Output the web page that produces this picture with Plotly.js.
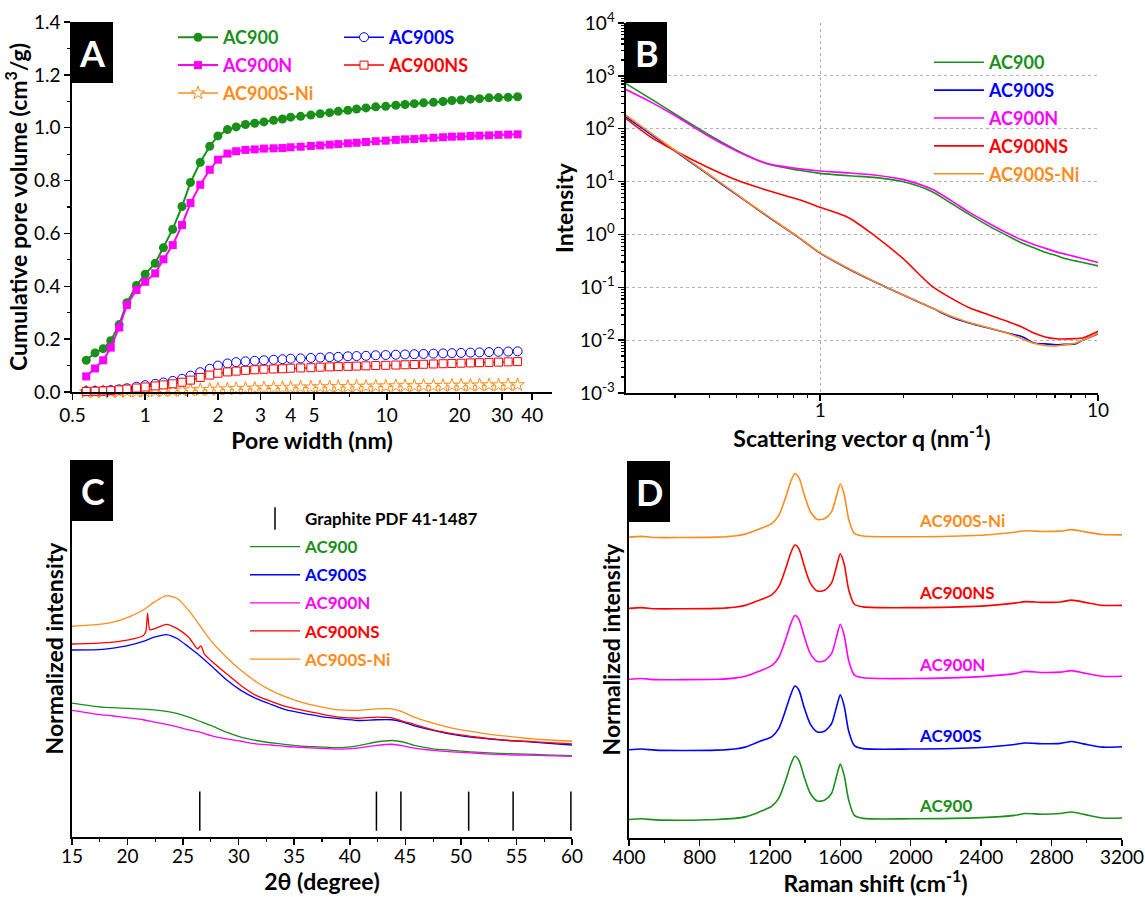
<!DOCTYPE html>
<html><head><meta charset="utf-8">
<script src="https://cdn.plot.ly/plotly-3.0.1.min.js"></script>
<style>html,body{margin:0;padding:0;background:#fff}</style>
</head><body><div id="chart" style="width:1145px;height:897px"></div>
<script>
// ---------- Panel A: cumulative pore volume ----------
const poreWidth = [0.57,0.62,0.67,0.72,0.78,0.84,0.92,1.0,1.1,1.19,1.3,1.42,1.54,1.69,1.85,2.0,2.19,2.38,2.6,2.84,3.1,3.4,3.7,4.0,4.4,4.85,5.3,5.8,6.3,6.9,7.5,8.2,9.0,9.9,10.9,11.9,13.0,14.2,15.6,17.1,18.6,20.3,22.2,24.2,26.5,29.0,31.8,34.8];
const poreAC900 = [0.120,0.148,0.164,0.194,0.255,0.338,0.403,0.446,0.487,0.546,0.616,0.702,0.793,0.869,0.930,0.969,0.993,1.003,1.012,1.017,1.022,1.028,1.033,1.040,1.043,1.048,1.053,1.057,1.062,1.066,1.071,1.075,1.079,1.081,1.085,1.088,1.091,1.094,1.096,1.099,1.103,1.105,1.108,1.110,1.113,1.114,1.115,1.117];
const poreAC900N = [0.059,0.089,0.120,0.168,0.244,0.329,0.386,0.417,0.449,0.502,0.556,0.632,0.715,0.784,0.841,0.879,0.902,0.911,0.916,0.918,0.921,0.922,0.923,0.926,0.928,0.931,0.933,0.936,0.938,0.941,0.943,0.946,0.949,0.951,0.954,0.956,0.957,0.960,0.962,0.964,0.966,0.967,0.969,0.970,0.971,0.973,0.974,0.975];
const poreAC900S = [0.003,0.004,0.005,0.007,0.010,0.014,0.020,0.026,0.031,0.036,0.042,0.050,0.062,0.075,0.088,0.100,0.108,0.113,0.116,0.118,0.120,0.122,0.124,0.126,0.127,0.129,0.130,0.132,0.133,0.135,0.136,0.137,0.139,0.140,0.141,0.142,0.143,0.144,0.145,0.146,0.147,0.148,0.149,0.150,0.151,0.152,0.153,0.154];
const poreAC900NS = [0.002,0.003,0.004,0.005,0.008,0.011,0.015,0.019,0.023,0.027,0.031,0.037,0.045,0.055,0.064,0.071,0.076,0.079,0.082,0.084,0.086,0.087,0.088,0.090,0.091,0.092,0.094,0.095,0.096,0.097,0.098,0.099,0.100,0.101,0.102,0.103,0.104,0.105,0.106,0.107,0.108,0.109,0.110,0.111,0.112,0.113,0.114,0.115];
const poreAC900SNi = [0.000,0.000,0.001,0.001,0.001,0.002,0.002,0.003,0.004,0.004,0.005,0.006,0.007,0.008,0.009,0.010,0.011,0.012,0.013,0.014,0.015,0.016,0.016,0.017,0.018,0.018,0.019,0.019,0.020,0.020,0.021,0.021,0.022,0.022,0.023,0.023,0.023,0.024,0.024,0.024,0.025,0.025,0.025,0.026,0.026,0.026,0.027,0.027];
const poreTicks = [0.5,1,2,3,4,5,10,20,30,40];
const poreMinorTicks = [0.7,1.5,7,15];
const volTicks = [0,0.2,0.4,0.6,0.8,1.0,1.2,1.4];

// ---------- Panel B: SAXS ----------
const qVec = [0.2,0.245,0.305,0.39,0.5,0.64,0.83,1.0,1.27,1.59,1.98,2.53,2.96,3.46,4.04,4.73,5.36,5.88,6.45,7.08,7.54,8.28,8.82,10];
const saxsAC900 = [714,372,180,81.3,39.4,22.0,16.5,14.3,12.9,11.9,10.0,6.44,3.88,2.34,1.45,0.938,0.676,0.562,0.460,0.398,0.355,0.316,0.294,0.254];
const saxsAC900S = [168,78.9,35.6,14.3,5.65,2.27,0.898,0.442,0.220,0.123,0.0721,0.0404,0.0275,0.0209,0.0169,0.0136,0.0115,0.00883,0.00851,0.00820,0.00832,0.00845,0.0100,0.0132];
const saxsAC900N = [551,322,168,75.9,38.0,22.1,17.6,15.8,14.6,13.2,11.0,7.13,4.36,2.58,1.63,1.05,0.776,0.646,0.548,0.468,0.429,0.380,0.350,0.294];
const saxsAC900NS = [156,70.3,36.6,19.1,10.7,6.92,4.61,3.26,2.05,0.90,0.355,0.104,0.0624,0.0404,0.0302,0.0226,0.0174,0.0136,0.0115,0.0106,0.0105,0.0107,0.0110,0.0147];
const saxsAC900SNi = [180,83.2,37.0,14.7,5.78,2.31,0.912,0.447,0.224,0.124,0.0724,0.0407,0.0282,0.0214,0.0172,0.0135,0.0105,0.00871,0.00794,0.00776,0.00813,0.00871,0.0100,0.0135];
const saxsYTicks = [1e-3,1e-2,1e-1,1,10,100,1e3,1e4];
const saxsYTickText = ['10<sup>-3</sup>','10<sup>-2</sup>','10<sup>-1</sup>','10<sup>0</sup>','10<sup>1</sup>','10<sup>2</sup>','10<sup>3</sup>','10<sup>4</sup>'];
const saxsXTicks = [1,10];

// ---------- Panel C: XRD ----------
const twoTheta = [15,17.4,18.7,20.1,21.4,22.4,23.5,24.5,25.5,26.5,27.5,28.9,30.2,31.6,32.9,34.3,35.6,37.3,39.0,40.7,42.4,43.8,44.8,45.8,47.5,49.2,50.9,52.6,54.3,55.9,57.6,60];
const xrdAC900 = [0.355,0.345,0.343,0.341,0.339,0.337,0.333,0.327,0.318,0.307,0.296,0.278,0.265,0.256,0.250,0.245,0.241,0.239,0.237,0.242,0.252,0.256,0.252,0.243,0.234,0.230,0.226,0.223,0.221,0.220,0.218,0.216];
const xrdAC900S = [0.496,0.497,0.501,0.508,0.519,0.530,0.537,0.526,0.504,0.481,0.455,0.417,0.389,0.367,0.352,0.337,0.329,0.320,0.314,0.309,0.311,0.311,0.305,0.295,0.283,0.272,0.265,0.260,0.256,0.253,0.249,0.244];
const xrdAC900N = [0.336,0.325,0.321,0.316,0.311,0.305,0.299,0.292,0.284,0.278,0.269,0.260,0.254,0.247,0.244,0.240,0.238,0.235,0.233,0.236,0.243,0.246,0.242,0.236,0.230,0.226,0.223,0.220,0.218,0.217,0.216,0.214];
const twoThetaNS = [15,17.4,18.7,20.1,21.4,21.65,21.8,22.0,22.4,23.5,24.5,25.5,26.3,26.6,26.9,27.5,28.9,30.2,31.6,32.9,34.3,35.6,37.3,39.0,40.7,42.4,43.8,44.8,45.8,47.5,49.2,50.9,52.6,54.3,55.9,57.6,60];
const xrdAC900NS = [0.512,0.514,0.517,0.523,0.534,0.545,0.594,0.550,0.552,0.564,0.552,0.530,0.499,0.507,0.486,0.468,0.433,0.402,0.375,0.360,0.346,0.337,0.327,0.318,0.315,0.318,0.316,0.307,0.299,0.284,0.274,0.267,0.261,0.256,0.254,0.251,0.247];
const xrdAC900SNi = [0.559,0.564,0.570,0.583,0.602,0.623,0.640,0.632,0.601,0.561,0.521,0.477,0.442,0.411,0.389,0.371,0.358,0.346,0.337,0.336,0.340,0.340,0.331,0.318,0.302,0.289,0.280,0.272,0.267,0.262,0.258,0.254];
const graphitePeaks = [26.5,42.4,44.6,50.7,54.7,59.9];
const graphiteLevel = [0.0685,0.0685,0.0685,0.0685,0.0685,0.0685];

// ---------- Panel D: Raman ----------
const ramanShift = [400,470,550,700,900,1000,1060,1120,1170,1210,1250,1290,1320,1342,1365,1395,1430,1470,1510,1550,1580,1600,1622,1648,1680,1730,2000,2400,2590,2650,2750,2850,2915,2990,3090,3200];
const ramanAC900 = [0.049,0.051,0.048,0.047,0.049,0.052,0.056,0.065,0.075,0.084,0.105,0.153,0.197,0.217,0.206,0.162,0.118,0.098,0.100,0.118,0.166,0.196,0.166,0.100,0.060,0.052,0.051,0.054,0.060,0.065,0.063,0.065,0.069,0.062,0.053,0.053];
const ramanAC900S = [0.234,0.236,0.233,0.232,0.233,0.236,0.241,0.252,0.261,0.268,0.290,0.340,0.382,0.403,0.392,0.346,0.302,0.281,0.283,0.303,0.350,0.380,0.350,0.283,0.245,0.237,0.236,0.240,0.248,0.252,0.250,0.251,0.256,0.249,0.241,0.242];
const ramanAC900N = [0.421,0.423,0.420,0.420,0.421,0.424,0.429,0.439,0.448,0.457,0.478,0.527,0.570,0.590,0.580,0.535,0.489,0.468,0.470,0.489,0.536,0.567,0.538,0.470,0.432,0.425,0.423,0.428,0.436,0.442,0.439,0.440,0.444,0.437,0.429,0.429];
const ramanAC900NS = [0.609,0.611,0.608,0.608,0.609,0.612,0.617,0.627,0.636,0.645,0.666,0.715,0.758,0.777,0.767,0.722,0.676,0.655,0.657,0.676,0.723,0.754,0.727,0.658,0.620,0.613,0.611,0.615,0.623,0.627,0.625,0.626,0.631,0.625,0.617,0.617];
const ramanAC900SNi = [0.798,0.800,0.797,0.797,0.798,0.801,0.806,0.816,0.825,0.834,0.855,0.904,0.947,0.966,0.956,0.911,0.866,0.845,0.847,0.865,0.910,0.939,0.912,0.845,0.808,0.801,0.799,0.803,0.811,0.815,0.813,0.814,0.818,0.812,0.805,0.804];
const ramanLabels = ['AC900S-Ni','AC900NS','AC900N','AC900S','AC900'];
const ramanLabelY = [0.841,0.650,0.459,0.273,0.085];

// ---------- styling ----------
const W = 1145, H = 897;
const PX = x => x / W, PY = y => 1 - y / H;
const FONT = 'Lato, "Open Sans", sans-serif';
const C = {green:'#1a8f1a', blue:'#0000ff', mag:'#ff00ff', red:'#ff0000', orange:'#ff8c1a'};
const lbl = (t, c) => '<span style="color:' + c + '"><b>' + t + '</b></span>';

function axis(extra) {
  return Object.assign({
    showline:true, linecolor:'#000', linewidth:1.6, ticks:'outside', ticklen:6, tickwidth:1.5,
    tickcolor:'#000', showgrid:false, zeroline:false, fixedrange:true,
    tickfont:{family:FONT, size:19, color:'#000'}
  }, extra);
}
function title(t, s) { return {text:'<b>' + t + '</b>', font:{family:FONT, size:23, color:'#000'}, standoff:s}; }

const traces = [];
// A
const aCommon = {type:'scatter', mode:'lines+markers', x:poreWidth, xaxis:'x', yaxis:'y', cliponaxis:false};
traces.push(Object.assign({}, aCommon, {y:poreAC900, name:lbl('AC900', C.green), legend:'legend', legendgroup:'a1',
  line:{color:C.green, width:2}, marker:{symbol:'circle', size:9, color:C.green}}));
traces.push(Object.assign({}, aCommon, {y:poreAC900N, name:lbl('AC900N', C.mag), legend:'legend', legendgroup:'a2',
  line:{color:C.mag, width:2}, marker:{symbol:'square', size:8, color:C.mag}}));
traces.push(Object.assign({}, aCommon, {y:poreAC900SNi, name:lbl('AC900S-Ni', C.orange), legend:'legend', legendgroup:'a3',
  line:{color:C.orange, width:1.5}, marker:{symbol:'star', size:10, color:'#fff', line:{color:C.orange, width:1}}}));
traces.push(Object.assign({}, aCommon, {y:poreAC900S, name:lbl('AC900S', C.blue), legend:'legend2', legendgroup:'a4',
  line:{color:C.blue, width:1.5}, marker:{symbol:'circle', size:9, color:'#fff', line:{color:C.blue, width:1}}}));
traces.push(Object.assign({}, aCommon, {y:poreAC900NS, name:lbl('AC900NS', C.red), legend:'legend2', legendgroup:'a5',
  line:{color:C.red, width:1.5}, marker:{symbol:'square', size:8, color:'#fff', line:{color:C.red, width:1}}}));
// B
[[saxsAC900,'AC900',C.green],[saxsAC900S,'AC900S',C.blue],[saxsAC900N,'AC900N',C.mag],[saxsAC900NS,'AC900NS',C.red],[saxsAC900SNi,'AC900S-Ni',C.orange]]
 .forEach((s,i) => traces.push({type:'scatter', mode:'lines', x:qVec, y:s[0], xaxis:'x2', yaxis:'y2', name:lbl(s[1], s[2]),
   legend:'legend3', legendgroup:'b'+i, line:{color:s[2], width:1.6, shape:'spline', smoothing:0.8}}));
// C
traces.push({type:'scatter', mode:'markers', x:graphitePeaks, y:graphiteLevel, xaxis:'x3', yaxis:'y3',
  name:'<b>Graphite PDF 41-1487</b>', legend:'legend4', legendgroup:'c0',
  marker:{symbol:'line-ns', size:28, color:'#000', line:{color:'#000', width:1.5}}});
[[twoTheta,xrdAC900,'AC900',C.green],[twoTheta,xrdAC900S,'AC900S',C.blue],[twoTheta,xrdAC900N,'AC900N',C.mag],[twoThetaNS,xrdAC900NS,'AC900NS',C.red],[twoTheta,xrdAC900SNi,'AC900S-Ni',C.orange]]
 .forEach((s,i) => traces.push({type:'scatter', mode:'lines', x:s[0], y:s[1], xaxis:'x3', yaxis:'y3', name:lbl(s[2], s[3]),
   legend:'legend4', legendgroup:'c'+(i+1), line:{color:s[3], width:1.3, shape:'spline', smoothing:0.6}}));
// D
[[ramanAC900,C.green],[ramanAC900S,C.blue],[ramanAC900N,C.mag],[ramanAC900NS,C.red],[ramanAC900SNi,C.orange]]
 .forEach(s => traces.push({type:'scatter', mode:'lines', x:ramanShift, y:s[0], xaxis:'x4', yaxis:'y4', showlegend:false,
   line:{color:s[1], width:1.6, shape:'spline', smoothing:0.7}}));

const minorLogB = []; for (let k = -3; k < 4; k++) for (let d = 2; d < 10; d++) minorLogB.push(d * Math.pow(10, k));
const minorXB = [0.3,0.4,0.5,0.6,0.7,0.8,0.9,2,3,4,5,6,7,8,9];
const ramanColors = [C.orange, C.red, C.mag, C.blue, C.green];

const legendBase = {bgcolor:'rgba(0,0,0,0)', borderwidth:0, traceorder:'grouped', xanchor:'left', yanchor:'top',
  font:{family:FONT, size:18, color:'#000'}};

const layout = {
  width:W, height:H, margin:{l:0, r:0, t:0, b:0}, paper_bgcolor:'#fff', plot_bgcolor:'rgba(0,0,0,0)',
  font:{family:FONT, color:'#000'},
  xaxis: axis({domain:[PX(72), PX(552)], anchor:'y', type:'log', range:[Math.log10(0.5)-0.002, Math.log10(48.3)],
    tickmode:'array', tickvals:poreTicks, ticktext:poreTicks.map(String),
    minor:{tickmode:'array', tickvals:poreMinorTicks, ticks:'outside', ticklen:3, tickwidth:1.2, tickcolor:'#000'},
    title:title('Pore width (nm)', 0)}),
  yaxis: axis({domain:[PY(392), PY(22)], anchor:'x', range:[0, 1.4], tickmode:'array', tickvals:volTicks,
    ticktext:volTicks.map(v => v.toFixed(1)),
    minor:{dtick:0.1, ticks:'outside', ticklen:3, tickwidth:1.2, tickcolor:'#000'},
    title:title('Cumulative pore volume (cm<sup>3</sup>/g)', 0)}),
  xaxis2: axis({domain:[PX(626), PX(1098)], anchor:'y2', type:'log', range:[Math.log10(0.2), 1],
    tickmode:'array', tickvals:saxsXTicks, ticktext:['1','10'], ticklabelstandoff:-6,
    showgrid:true, gridcolor:'#b0b0b0', griddash:'dot', gridwidth:1,
    minor:{tickmode:'array', tickvals:minorXB, ticks:'outside', ticklen:3, tickwidth:1.2, tickcolor:'#000', showgrid:false},
    title:title('Scattering vector q (nm<sup>-1</sup>)', 0)}),
  yaxis2: axis({domain:[PY(393), PY(23)], anchor:'x2', type:'log', range:[-3, 4],
    tickmode:'array', tickvals:saxsYTicks, ticktext:saxsYTickText,
    showgrid:true, gridcolor:'#b0b0b0', griddash:'dot', gridwidth:1,
    minor:{tickmode:'array', tickvals:minorLogB, ticks:'outside', ticklen:3, tickwidth:1.2, tickcolor:'#000', showgrid:false},
    title:title('Intensity', 0)}),
  xaxis3: axis({domain:[PX(72), PX(572)], anchor:'y3', range:[15, 60], dtick:5, tick0:15, ticklabelstandoff:-4,
    minor:{dtick:2.5, ticks:'outside', ticklen:3, tickwidth:1.2, tickcolor:'#000'},
    title:title('2θ (degree)', 5)}),
  yaxis3: axis({domain:[PY(837), PY(460)], anchor:'x3', range:[0, 1], ticks:'', showticklabels:false,
    title:title('Normalized intensity', 0)}),
  xaxis4: axis({domain:[PX(629), PX(1122)], anchor:'y4', range:[400, 3200], dtick:400, tick0:400, ticklabelstandoff:-4,
    minor:{dtick:200, ticks:'outside', ticklen:3, tickwidth:1.2, tickcolor:'#000'},
    title:title('Raman shift (cm<sup>-1</sup>)', 9)}),
  yaxis4: axis({domain:[PY(838), PY(461)], anchor:'x4', range:[0, 1], ticks:'', showticklabels:false,
    title:title('Normalized intensity', 0)}),
  legend: Object.assign({}, legendBase, {x:PX(173), y:PY(19), tracegroupgap:1.5, itemwidth:40}),
  legend2: Object.assign({}, legendBase, {x:PX(339), y:PY(19), tracegroupgap:1.5, itemwidth:40}),
  legend3: Object.assign({}, legendBase, {x:PX(929), y:PY(44), tracegroupgap:1.5, itemwidth:50}),
  legend4: Object.assign({}, legendBase, {x:PX(245), y:PY(501), tracegroupgap:3, itemwidth:50, font:{family:FONT, size:17, color:'#000'}}),
  shapes: [[72,22],[626,22],[72,460],[629,461]].map(p => ({type:'rect', xref:'paper', yref:'paper', layer:'above',
    x0:PX(p[0]), x1:PX(p[0]+41), y0:PY(p[1]+61), y1:PY(p[1]), fillcolor:'#000', line:{width:0}})),
  annotations: [['A',72,22],['B',626,22],['C',72,460],['D',629,461]].map(p => ({xref:'paper', yref:'paper',
    x:PX(p[1]+20.5), y:PY(p[2]+31), xanchor:'center', yanchor:'middle', showarrow:false,
    text:'<b>' + p[0] + '</b>', font:{family:FONT, size:36, color:'#fff'}}))
    .concat(ramanLabels.map((t,i) => ({xref:'x4', yref:'y4', x:2035, y:ramanLabelY[i], xanchor:'left', yanchor:'middle',
    showarrow:false, text:'<b>' + t + '</b>', font:{family:FONT, size:17, color:ramanColors[i]}})))
};

Plotly.newPlot('chart', traces, layout, {staticPlot:true, displayModeBar:false});
</script></body></html>
